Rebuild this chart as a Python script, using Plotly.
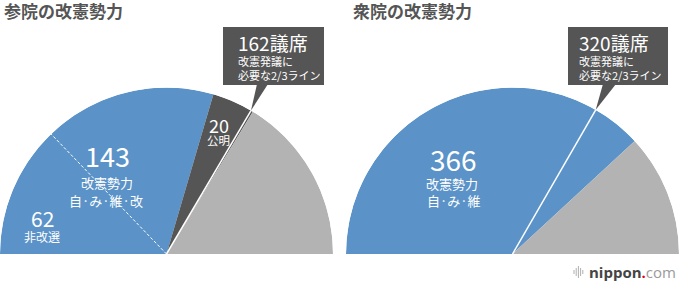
import math
import plotly.graph_objects as go

# ---------------- data ----------------
titles = ["参院の改憲勢力", "衆院の改憲勢力"]
totals = [242, 480]

left_labels = ["改憲勢力 自·み·維·改", "公明", "その他"]
left_values = [143, 20, 79]
left_not_up = 62          # 非改選

right_labels = ["改憲勢力 自·み·維", "その他"]
right_values = [366, 114]

thresholds = [162, 320]   # 改憲発議に必要な2/3ライン

# ---------------- style ----------------
W, H = 680, 284
FONT = "Noto Sans CJK JP"
BLUE = "#5b93c8"
DARK = "#555555"
GRAY = "#b3b3b3"
TITLE_C = "#555555"

left_colors = [BLUE, DARK, GRAY]
right_colors = [BLUE, GRAY]

# polar geometry (pixels)
CY = 254
R = 166.5
CX = [166.5, 512.5]


def px(x):
    return x / W


def py(y):
    return 1 - y / H


fig = go.Figure()


def add_half(values, colors, total, subplot, names):
    cum = 0
    thetas, widths = [], []
    for v in values:
        thetas.append((cum + v / 2) * 180 / total)
        widths.append(v * 180 / total)
        cum += v
    fig.add_trace(go.Barpolar(
        r=[1] * len(values), theta=thetas, width=widths,
        marker=dict(color=colors, line=dict(width=0)),
        hovertext=names, hoverinfo="text", subplot=subplot, showlegend=False))


def add_ray(value, total, subplot, dash, width):
    t = value * 180 / total
    fig.add_trace(go.Scatterpolar(
        r=[0, 1], theta=[t, t], mode="lines",
        line=dict(color="white", width=width, dash=dash),
        hoverinfo="skip", subplot=subplot, showlegend=False))


add_half(left_values, left_colors, totals[0], "polar", left_labels)
add_half(right_values, right_colors, totals[1], "polar2", right_labels)
add_ray(left_not_up, totals[0], "polar", "3px,2px", 1)
add_ray(thresholds[0], totals[0], "polar", "solid", 1.5)
add_ray(thresholds[1], totals[1], "polar2", "solid", 1.5)

polar_common = dict(
    sector=[0, 180], bgcolor="rgba(0,0,0,0)", hole=0,
    radialaxis=dict(visible=False, range=[0, 1], showgrid=False),
    angularaxis=dict(visible=False, direction="clockwise", rotation=180,
                     thetaunit="degrees", showgrid=False, showline=False, ticks=""),
)
fig.update_layout(
    width=W, height=H,
    margin=dict(l=0, r=0, t=0, b=0),
    paper_bgcolor="white", plot_bgcolor="white",
    font=dict(family=FONT),
    polar=dict(domain=dict(x=[px(CX[0] - R), px(CX[0] + R)], y=[py(CY), py(CY - R)]), **polar_common),
    polar2=dict(domain=dict(x=[px(CX[1] - R), px(CX[1] + R)], y=[py(CY), py(CY - R)]), **polar_common),
)


def ann(text, x, y, size, color="white", xanchor="center", family=FONT):
    fig.add_annotation(text=text, x=px(x), y=py(y), xref="paper", yref="paper",
                       xanchor=xanchor, yanchor="middle", showarrow=False,
                       borderpad=0,
                       font=dict(size=size, color=color, family=family))


# titles
ann("<b>" + titles[0] + "</b>", 3, 11, 17, TITLE_C, "left")
ann("<b>" + titles[1] + "</b>", 352, 11, 17, TITLE_C, "left")

# left labels
ann(str(left_values[0]), 107, 155, 27)
ann("改憲勢力", 107, 182, 13)
ann("自·み·維·改", 106, 200, 13)
ann(str(left_not_up), 42, 218, 21)
ann("非改選", 42, 236, 12)
ann(str(left_values[1]), 219, 125, 18)
ann(left_labels[1], 218, 140, 11.5)

# right labels
ann(str(right_values[0]), 453, 159, 28)
ann("改憲勢力", 452, 183, 13)
ann("自·み·維", 454, 201, 13)

# callouts
boxes = [(223, 324), (568, 668)]
bases = [(257, 268), (603, 616)]
for i in range(2):
    x0, x1 = boxes[i]
    fig.add_shape(type="rect", xref="paper", yref="paper",
                  x0=px(x0), x1=px(x1), y0=py(85), y1=py(27),
                  fillcolor=DARK, line=dict(width=0), layer="above")
    ang = math.radians(180 - thresholds[i] * 180 / totals[i])
    tx = CX[i] + R * math.cos(ang)
    ty = CY - R * math.sin(ang)
    b0, b1 = bases[i]
    fig.add_shape(type="path", xref="paper", yref="paper",
                  path=f"M {px(b0)},{py(84)} L {px(b1)},{py(84)} L {px(tx)},{py(ty)} Z",
                  fillcolor=DARK, line=dict(width=0), layer="above")
    lx = x0 + 14 if i == 0 else x0 + 10
    ann(f"{thresholds[i]}議席", lx, 42, 19, "white", "left")
    ann("改憲発議に", lx, 61, 11, "white", "left")
    ann("必要な2/3ライン", lx, 75, 11, "white", "left")

# logo
bar_h = [4, 8, 12, 8, 4]
for k, hh in enumerate(bar_h):
    xx = 574 + k * 2.2
    fig.add_shape(type="line", xref="paper", yref="paper",
                  x0=px(xx), x1=px(xx), y0=py(272 - hh / 2), y1=py(272 + hh / 2),
                  line=dict(color="#b0b0b0", width=1))
fig.add_annotation(
    text="<b>nippon</b><span style='color:#e60012'><b>.</b></span><span style='color:#9a9a9a'>com</span>",
    x=px(677), y=py(272), xref="paper", yref="paper", xanchor="right", yanchor="middle",
    showarrow=False, borderpad=0, font=dict(size=15, color="#444444", family="Open Sans"))

fig.write_html("out.html")
